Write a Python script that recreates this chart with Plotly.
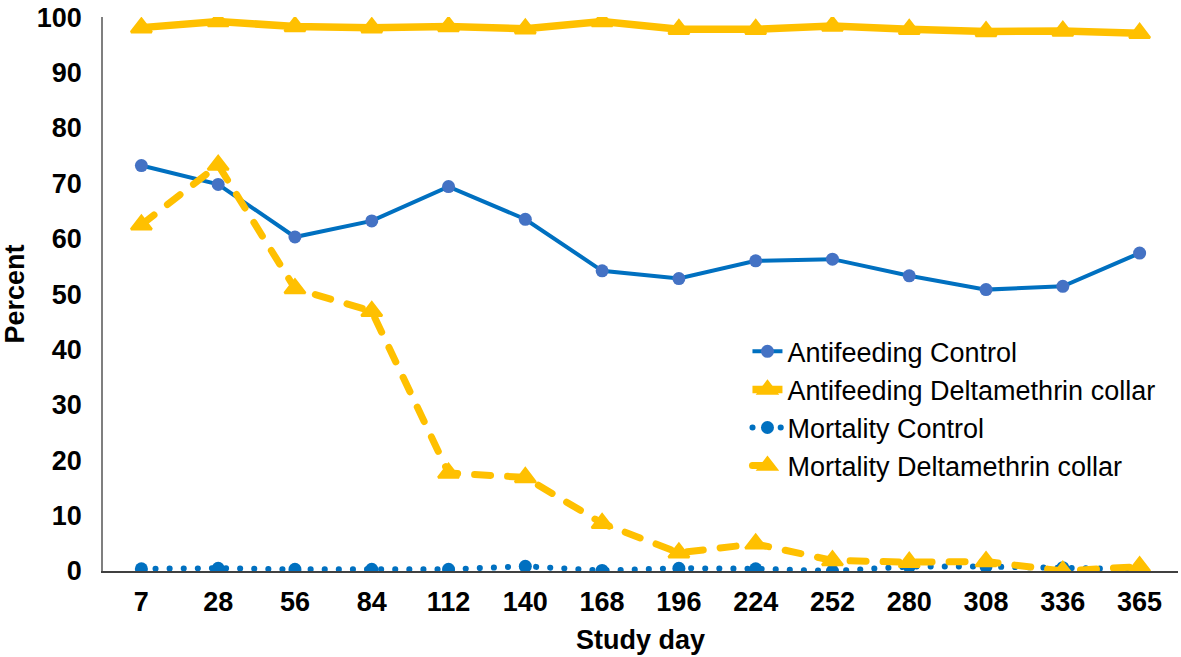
import plotly.graph_objects as go

study_days = ["7", "28", "56", "84", "112", "140", "168", "196", "224", "252", "280", "308", "336", "365"]
antifeeding_control = [73.2, 69.8, 60.3, 63.2, 69.4, 63.5, 54.2, 52.8, 56.0, 56.3, 53.3, 50.8, 51.4, 57.4]
antifeeding_delta = [98.1, 99.2, 98.3, 98.1, 98.3, 97.9, 99.2, 97.8, 97.8, 98.4, 97.8, 97.4, 97.5, 97.1]
mortality_control = [0.4, 0.5, 0.3, 0.3, 0.3, 0.85, 0.1, 0.5, 0.4, 0.0, 0.8, 0.8, 0.6, 0.3]
mortality_delta = [62.5, 73.3, 51.0, 46.9, 17.7, 16.9, 8.6, 3.3, 4.9, 1.9, 1.6, 1.7, 0.0, 0.8]

y_ticks = list(range(0, 101, 10))

BLUE = "#0070C0"
MBLUE = "#4472C4"
GOLD = "#FFC000"
FONT = "Liberation Sans, Arial, sans-serif"

fig = go.Figure()
fig.add_trace(go.Scatter(
    x=study_days, y=antifeeding_control, name="Antifeeding Control",
    mode="lines+markers",
    line=dict(color=BLUE, width=4),
    marker=dict(color=MBLUE, size=13, symbol="circle"),
))
fig.add_trace(go.Scatter(
    x=study_days, y=antifeeding_delta, name="Antifeeding Deltamethrin collar",
    mode="lines+markers",
    line=dict(color=GOLD, width=7.5),
    marker=dict(color=GOLD, size=18, symbol="triangle-up", line=dict(color=GOLD, width=2.5)),
))
fig.add_trace(go.Scatter(
    x=study_days, y=mortality_control, name="Mortality Control",
    mode="lines+markers",
    line=dict(color=BLUE, width=6, dash="0.1px,14px"),
    marker=dict(color=BLUE, size=13, symbol="circle"),
))
fig.add_trace(go.Scatter(
    x=study_days, y=mortality_delta, name="Mortality Deltamethrin collar",
    mode="lines+markers",
    line=dict(color=GOLD, width=7, dash="16px,17px"),
    marker=dict(color=GOLD, size=18, symbol="triangle-up", line=dict(color=GOLD, width=2.5)),
))

fig.update_layout(
    width=1181, height=657,
    margin=dict(l=103, r=3, t=14, b=86),
    paper_bgcolor="white", plot_bgcolor="white",
    font=dict(family=FONT, size=27, color="black"),
    showlegend=True,
    legend=dict(
        x=0.5995, y=0.44, xanchor="left", yanchor="top",
        bgcolor="rgba(0,0,0,0)", borderwidth=0,
        font=dict(family=FONT, size=27, color="black"),
        itemwidth=30, tracegroupgap=0,
    ),
    xaxis=dict(
        type="category",
        categoryorder="array", categoryarray=study_days,
        range=[-0.5, len(study_days) - 0.5],
        showline=True, linecolor="#404040", linewidth=1.5,
        showgrid=False, zeroline=False, ticks="",
        tickfont=dict(family=FONT, size=27, color="black", weight="bold"),
        ticklabelstandoff=6,
        title=dict(text="<b>Study day</b>", font=dict(family=FONT, size=27, color="black"), standoff=14),
    ),
    yaxis=dict(
        range=[0, 100.02],
        tickvals=y_ticks,
        ticklabeloverflow="allow",
        showline=True, linecolor="#7f7f7f", linewidth=1.5,
        showgrid=False, zeroline=False, ticks="",
        tickfont=dict(family=FONT, size=27, color="black", weight="bold"),
        ticklabelstandoff=14,
        title=dict(text="<b>Percent</b>", font=dict(family=FONT, size=27, color="black"), standoff=14),
    ),
)

post = """
document.body.style.margin = '0';
function roundCaps() {
  var traces = document.querySelectorAll('.scatterlayer .trace');
  [2, 3].forEach(function (i) {
    if (traces[i]) {
      traces[i].querySelectorAll('path.js-line').forEach(function (p) {
        p.style.strokeLinecap = 'round';
      });
    }
  });
  var leg = document.querySelectorAll('.legend .traces');
  [2, 3].forEach(function (i) {
    if (leg[i]) {
      leg[i].querySelectorAll('path.js-line').forEach(function (p) {
        p.style.strokeLinecap = 'round';
      });
    }
  });
}
roundCaps();
setTimeout(roundCaps, 50);
setTimeout(roundCaps, 300);
"""

fig.write_html("out.html", post_script=post, config={"displayModeBar": False})
